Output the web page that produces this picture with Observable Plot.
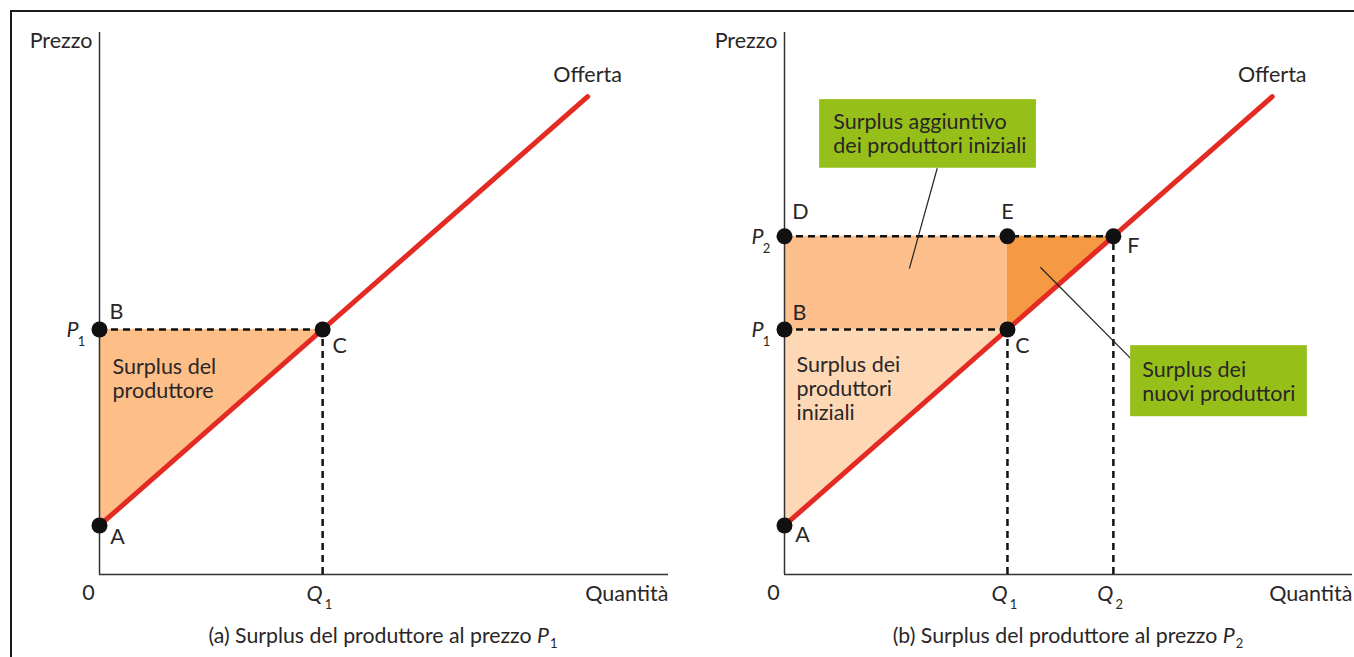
<!DOCTYPE html>
<html><head><meta charset="utf-8">
<script src="https://cdn.jsdelivr.net/npm/d3@7"></script>
<script src="https://cdn.jsdelivr.net/npm/@observablehq/plot@0.6"></script>
<style>
body{margin:0;background:#fff;}
#wrap{position:relative;width:1354px;height:657px;overflow:hidden;font-family:Lato,sans-serif;color:#2a2627;}
#frame{position:absolute;left:10px;top:10px;width:2000px;height:2000px;border-left:2px solid #1a1a1a;border-top:2px solid #1a1a1a;pointer-events:none;z-index:5;}
.panel{position:absolute;top:0;}
.cap{position:absolute;top:623px;font-size:21.3px;white-space:nowrap;transform:translateX(-50%);line-height:24px;}
.cap i{font-style:italic;}
.cap sub{font-size:13px;vertical-align:-5px;line-height:0;margin-left:1px;}
</style></head>
<body>
<div id="wrap">
  <div id="frame"></div>
  <div id="pa" class="panel" style="left:0px"></div>
  <div id="pb" class="panel" style="left:677px"></div>
  <div id="capA" class="cap" style="left:383px"></div>
  <div id="capB" class="cap" style="left:1068px"></div>
</div>
<script>
// ---- data ----
const supplyQ = [0, 8.75];        // supply curve end points (quantity)
const supplyP = [1, 9.75];        // supply curve end points (price)
const quantities = [4, 5.9];      // Q1, Q2
const prices = [5, 6.9];          // P1, P2
const quantitySubs = ["1", "2"];
const priceSubs = ["1", "2"];
const axisLabels = ["Prezzo", "Quantità", "0"];
const curveLabel = "Offerta";
const areaLabelA = "Surplus del\nproduttore";
const areaLabelB = "Surplus dei\nproduttori\niniziali";
const calloutTexts = ["Surplus aggiuntivo\ndei produttori iniziali", "Surplus dei\nnuovi produttori"];
const captionTexts = ["(a) Surplus del produttore al prezzo", "(b) Surplus del produttore al prezzo"];

// ---- derived ----
const [Q1, Q2] = quantities;
const [P1, P2] = prices;
const supply = supplyQ.map((q, i) => ({q, p: supplyP[i]}));
const ptA = {name: "A", q: 0, p: supplyP[0]};
const ptB = {name: "B", q: 0, p: P1};
const ptC = {name: "C", q: Q1, p: P1};
const ptD = {name: "D", q: 0, p: P2};
const ptE = {name: "E", q: Q1, p: P2};
const ptF = {name: "F", q: Q2, p: P2};

const TXT = "#2a2627", RED = "#e32b24", DOT = "#111";
const FS = 21.5, SUB = 13, LH = 24 / 21.5;
const yMax = 11.06;

function commonMarks(xMax, priceList, qList) {
  const m = [];
  m.push(Plot.ruleX([0], {y1: 0, y2: yMax, stroke: "#333", strokeWidth: 1.5}));
  m.push(Plot.ruleY([0], {x1: 0, x2: xMax, stroke: "#333", strokeWidth: 1.5}));
  m.push(Plot.text([axisLabels[0]], {x: 0, y: yMax, textAnchor: "end", dx: -7, dy: 9, fontSize: FS, fill: TXT}));
  m.push(Plot.text([axisLabels[1]], {x: xMax, y: 0, textAnchor: "end", dy: 20, fontSize: FS, fill: TXT}));
  m.push(Plot.text([axisLabels[2]], {x: 0, y: 0, dx: -11, dy: 19, fontSize: FS, fill: TXT}));
  priceList.forEach(({p, sub}) => {
    m.push(Plot.text([p], {x: 0, y: d => d, text: () => "P", fontStyle: "italic", dx: -27, dy: 1, fontSize: FS, fill: TXT}));
    m.push(Plot.text([p], {x: 0, y: d => d, text: () => sub, dx: -18, dy: 12, fontSize: SUB, fill: TXT}));
  });
  qList.forEach(({q, sub}) => {
    m.push(Plot.text([q], {x: d => d, y: 0, text: () => "Q", fontStyle: "italic", dx: -8, dy: 20, fontSize: FS, fill: TXT}));
    m.push(Plot.text([q], {x: d => d, y: 0, text: () => sub, dx: 6, dy: 30, fontSize: SUB, fill: TXT}));
  });
  return m;
}

function dashed(m, horiz, vert) {
  horiz.forEach(([p, x2]) => m.push(Plot.ruleY([p], {x1: 0, x2, stroke: DOT, strokeWidth: 2.5, strokeDasharray: "7,5"})));
  vert.forEach(([q, y2]) => m.push(Plot.ruleX([q], {y1: 0, y2, stroke: DOT, strokeWidth: 2.5, strokeDasharray: "7,5"})));
}

function pointMarks(m, points, offsets) {
  m.push(Plot.dot(points, {x: "q", y: "p", r: 8, fill: DOT}));
  points.forEach(pt => {
    const [dx, dy] = offsets[pt.name];
    m.push(Plot.text([pt], {x: "q", y: "p", text: "name", dx, dy, fontSize: FS, fill: TXT}));
  });
}

// ---------- Panel A ----------
{
  const xMax = 10.2;
  const m = [];
  m.push(Plot.areaY([{q: 0, lo: ptA.p, hi: P1}, {q: Q1, lo: P1, hi: P1}], {x: "q", y1: "lo", y2: "hi", fill: "#fdbe88"}));
  m.push(...commonMarks(xMax, [{p: P1, sub: priceSubs[0]}], [{q: Q1, sub: quantitySubs[0]}]));
  dashed(m, [[P1, Q1]], [[Q1, P1]]);
  m.push(Plot.line(supply, {x: "q", y: "p", stroke: RED, strokeWidth: 5}));
  m.push(Plot.text([supply[1]], {x: "q", y: "p", text: () => curveLabel, dy: -22, fontSize: FS, fill: TXT}));
  m.push(Plot.text([areaLabelA], {x: 0, y: 4.0, dx: 13, textAnchor: "start", lineHeight: LH, fontSize: FS, fill: TXT}));
  pointMarks(m, [ptA, ptB, ptC], {A: [18, 12], B: [17, -17], C: [17, 17]});
  const chart = Plot.plot({
    width: 677, height: 657, marginLeft: 99, marginRight: 9, marginTop: 32, marginBottom: 83,
    x: {domain: [0, xMax], axis: null}, y: {domain: [0, yMax], axis: null},
    style: {background: "transparent", overflow: "visible", fontFamily: "Lato, sans-serif"},
    marks: m
  });
  document.getElementById("pa").appendChild(chart);
}

// ---------- Panel B ----------
{
  const xMax = 10.19;
  const m = [];
  m.push(Plot.areaY([{q: 0, lo: ptA.p, hi: P1}, {q: Q1, lo: P1, hi: P1}], {x: "q", y1: "lo", y2: "hi", fill: "#fed8b4"}));
  m.push(Plot.areaY([{q: 0, lo: P1, hi: P2}, {q: Q1, lo: P1, hi: P2}], {x: "q", y1: "lo", y2: "hi", fill: "#fdc08c"}));
  m.push(Plot.areaY([{q: Q1, lo: P1, hi: P2}, {q: Q2, lo: P2, hi: P2}], {x: "q", y1: "lo", y2: "hi", fill: "#f59a43"}));
  m.push(...commonMarks(xMax,
    [{p: P1, sub: priceSubs[0]}, {p: P2, sub: priceSubs[1]}],
    [{q: Q1, sub: quantitySubs[0]}, {q: Q2, sub: quantitySubs[1]}]));
  dashed(m, [[P1, Q1], [P2, Q2]], [[Q1, P1], [Q2, P2]]);
  m.push(Plot.line(supply, {x: "q", y: "p", stroke: RED, strokeWidth: 5}));
  m.push(Plot.text([supply[1]], {x: "q", y: "p", text: () => curveLabel, dy: -22, fontSize: FS, fill: TXT}));
  m.push(Plot.text([areaLabelB], {x: 0, y: 3.8, dx: 12, textAnchor: "start", lineHeight: LH, fontSize: FS, fill: TXT}));
  // callouts
  m.push(Plot.link([{x1: 2.74, y1: 8.29, x2: 2.24, y2: 6.24}, {x1: 4.59, y1: 6.27, x2: 6.21, y2: 4.41}],
    {x1: "x1", y1: "y1", x2: "x2", y2: "y2", stroke: "#222", strokeWidth: 1.2}));
  m.push(Plot.rect([{x1: 0.63, x2: 4.52, y1: 8.29, y2: 9.69}, {x1: 6.21, x2: 9.38, y1: 3.22, y2: 4.67}],
    {x1: "x1", x2: "x2", y1: "y1", y2: "y2", fill: "#97bf1a"}));
  m.push(Plot.text([calloutTexts[0]], {x: 0.875, y: 9.0, textAnchor: "start", lineHeight: LH, fontSize: FS, fill: TXT}));
  m.push(Plot.text([calloutTexts[1]], {x: 6.42, y: 3.94, textAnchor: "start", lineHeight: LH, fontSize: FS, fill: TXT}));
  pointMarks(m, [ptA, ptB, ptC, ptD, ptE, ptF],
    {A: [18, 10], B: [15, -16], C: [15, 17], D: [16, -24], E: [0, -24], F: [20, 10]});
  const chart = Plot.plot({
    width: 677, height: 657, marginLeft: 107, marginRight: 2, marginTop: 32, marginBottom: 83,
    x: {domain: [0, xMax], axis: null}, y: {domain: [0, yMax], axis: null},
    style: {background: "transparent", overflow: "visible", fontFamily: "Lato, sans-serif"},
    marks: m
  });
  document.getElementById("pb").appendChild(chart);
}

// captions
document.getElementById("capA").innerHTML = captionTexts[0] + " <i>P</i><sub>" + priceSubs[0] + "</sub>";
document.getElementById("capB").innerHTML = captionTexts[1] + " <i>P</i><sub>" + priceSubs[1] + "</sub>";
</script>
</body></html>
